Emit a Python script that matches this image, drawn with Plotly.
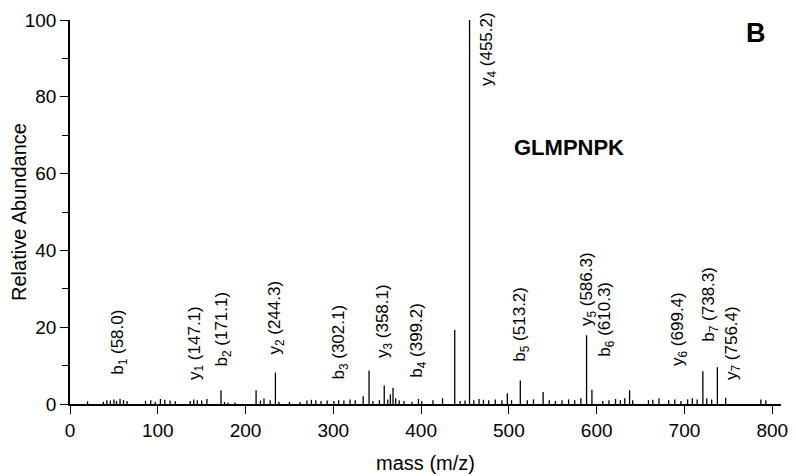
import plotly.graph_objects as go

# ---- data ----
peak_mz = [20, 38, 42, 46, 50, 53, 57, 61, 65, 86, 92, 97, 103, 108, 114, 120,
           137, 141, 145, 150, 156, 172, 176, 180, 188, 212, 217, 221, 228, 234, 238,
           250, 262, 270, 275, 280, 286, 293, 300.7, 306, 312, 319, 325, 334, 340.7,
           345, 352.5, 358, 362, 365, 368, 371, 375, 380.5, 389.6, 397, 400.7, 413.5,
           424.4, 438.3, 444.5, 450, 455.2, 460, 466, 471, 477, 484.5, 492, 498.2,
           503, 513, 521, 528, 539, 546, 553, 560.5, 568, 575, 582, 588.5, 594.6,
           607, 614, 621.5, 627, 632, 637.5, 641, 659, 664, 671, 682, 689, 696,
           703.6, 709, 714.5, 721, 725.4, 731, 737.5, 747, 787, 792.7]
peak_int = [0.7, 0.6, 1.0, 0.9, 1.2, 0.8, 1.3, 1.0, 0.8, 0.8, 1.0, 0.6, 1.3, 1.1, 0.9, 0.7,
            0.8, 1.2, 1.0, 0.9, 1.3, 3.6, 0.5, 0.4, 0.4, 3.6, 0.9, 1.4, 1.0, 8.2, 0.6,
            0.6, 0.5, 0.9, 1.1, 1.0, 0.8, 0.9, 0.8, 1.0, 0.9, 1.2, 1.0, 2.0, 8.7,
            0.8, 1.0, 4.8, 1.2, 2.5, 4.2, 1.5, 1.0, 0.8, 0.6, 1.3, 0.8, 1.0,
            1.5, 19.3, 0.8, 0.9, 100.0, 1.0, 1.3, 1.1, 1.0, 1.2, 1.0, 2.8,
            1.0, 6.1, 1.0, 1.2, 3.1, 1.0, 0.8, 1.0, 1.2, 1.0, 1.5, 17.9, 3.7,
            0.8, 1.0, 1.3, 1.0, 1.5, 3.6, 1.0, 1.0, 1.1, 1.5, 1.0, 1.2, 0.8,
            1.2, 1.5, 1.2, 8.5, 1.5, 1.2, 9.6, 1.6, 1.2, 1.0]

ion_names = ["b<sub>1</sub>", "y<sub>1</sub>", "b<sub>2</sub>", "y<sub>2</sub>",
             "b<sub>3</sub>", "y<sub>3</sub>", "b<sub>4</sub>", "y<sub>4</sub>",
             "b<sub>5</sub>", "y<sub>5</sub>", "b<sub>6</sub>", "y<sub>6</sub>",
             "b<sub>7</sub>", "y<sub>7</sub>"]
ion_mz = [58.0, 147.1, 171.1, 244.3, 302.1, 358.1, 399.2, 455.2,
          513.2, 586.3, 610.3, 699.4, 738.3, 756.4]

# where each label sits on the chart (x in m/z units, y = bottom of the label)
label_x = [56.5, 142.7, 174, 234.5, 308, 358, 397, 477,
           513.7, 591, 610.5, 694.6, 729, 754.5]
label_y = [7.1, 5.8, 9.3, 12.3, 5.8, 11.5, 6.3, 82.2,
           10.6, 19.7, 11.9, 9.3, 15.8, 5.8]

x_ticks = [0, 100, 200, 300, 400, 500, 600, 700, 800]
y_ticks = [0, 20, 40, 60, 80, 100]

peptide = "GLMPNPK"
panel = "B"

FONT = "Liberation Sans, Arial, Helvetica, sans-serif"

xs, ys = [], []
for m, h in zip(peak_mz, peak_int):
    xs += [m, m, None]
    ys += [0, h, None]

fig = go.Figure()
fig.add_trace(go.Scatter(x=xs, y=ys, mode="lines",
                         line=dict(color="black", width=1.3),
                         hoverinfo="skip", showlegend=False))

for name, mz, lx, ly in zip(ion_names, ion_mz, label_x, label_y):
    fig.add_annotation(x=lx, y=ly, text=f"{name} ({mz:.1f})", textangle=-90,
                       showarrow=False, xanchor="center", yanchor="bottom",
                       font=dict(family=FONT, size=17, color="black"))

fig.add_annotation(x=569, y=66.9, text=f"<b>{peptide}</b>", showarrow=False,
                   xanchor="center", yanchor="middle",
                   font=dict(family=FONT, size=22, color="black"))
fig.add_annotation(x=782, y=96.6, text=f"<b>{panel}</b>", showarrow=False,
                   xanchor="center", yanchor="middle",
                   font=dict(family=FONT, size=27, color="black"))

# page body adds an 8px offset, so margins are set 8px smaller on top/left
fig.update_layout(
    width=796, height=476,
    margin=dict(l=62, r=23, t=12, b=80),
    paper_bgcolor="white", plot_bgcolor="white",
    font=dict(family=FONT, size=19, color="black"),
    showlegend=False,
)
fig.update_xaxes(range=[0, 810], tickvals=x_ticks, ticktext=[str(t) for t in x_ticks],
                 ticks="outside", ticklen=8, tickwidth=1.4, tickcolor="black",
                 showline=True, linecolor="black", linewidth=1.6,
                 showgrid=False, zeroline=False, automargin=False,
                 title=dict(text="mass (m/z)", font=dict(size=20), standoff=16))
fig.update_yaxes(range=[0, 100], tickvals=y_ticks, ticktext=[str(t) for t in y_ticks],
                 ticks="outside", ticklen=8, tickwidth=1.4, tickcolor="black",
                 minor=dict(dtick=10, ticks="outside", ticklen=6, tickwidth=1.4, tickcolor="black"),
                 showline=True, linecolor="black", linewidth=1.6,
                 showgrid=False, zeroline=False, automargin=False,
                 title=dict(text="Relative Abundance", font=dict(size=20), standoff=8))

fig.write_html("out.html")
